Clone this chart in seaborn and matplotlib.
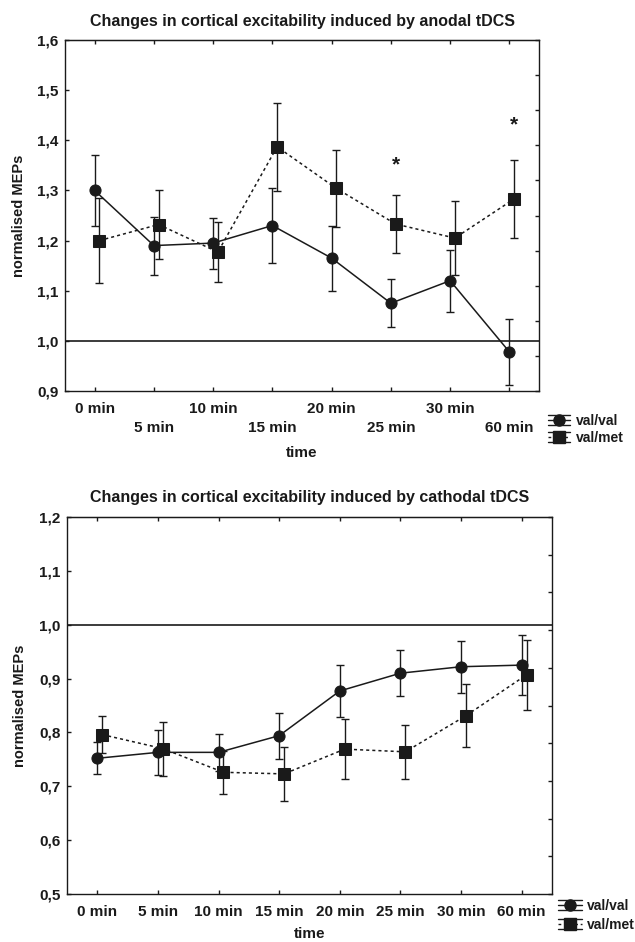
import numpy as np
import pandas as pd
import matplotlib
matplotlib.use("Agg")
import matplotlib.pyplot as plt
from matplotlib.lines import Line2D
from matplotlib.legend_handler import HandlerBase
import seaborn as sns

# ---------------- data ----------------
times = ["0 min", "5 min", "10 min", "15 min", "20 min", "25 min", "30 min", "60 min"]
groups = ["val/val", "val/met"]

anodal_valval = [1.300, 1.190, 1.195, 1.230, 1.165, 1.075, 1.120, 0.978]
anodal_valval_err = [0.071, 0.058, 0.051, 0.075, 0.065, 0.048, 0.062, 0.066]
anodal_valmet = [1.200, 1.232, 1.177, 1.387, 1.304, 1.233, 1.205, 1.283]
anodal_valmet_err = [0.085, 0.068, 0.060, 0.088, 0.077, 0.058, 0.073, 0.078]
anodal_sig = {"25 min": 1.35, "60 min": 1.43}

cathodal_valval = [0.752, 0.763, 0.763, 0.794, 0.877, 0.910, 0.922, 0.925]
cathodal_valval_err = [0.030, 0.042, 0.035, 0.043, 0.048, 0.043, 0.048, 0.055]
cathodal_valmet = [0.796, 0.770, 0.726, 0.723, 0.769, 0.764, 0.831, 0.907]
cathodal_valmet_err = [0.035, 0.050, 0.040, 0.050, 0.056, 0.050, 0.058, 0.065]

titles = ["Changes in cortical excitability induced by anodal tDCS",
          "Changes in cortical excitability induced by cathodal tDCS"]
ylims = [(0.9, 1.6), (0.5, 1.2)]
yticks_list = [[0.9, 1.0, 1.1, 1.2, 1.3, 1.4, 1.5, 1.6],
               [0.5, 0.6, 0.7, 0.8, 0.9, 1.0, 1.1, 1.2]]

# ---------------- style ----------------
sns.set_style("ticks")
plt.rcParams["font.family"] = ["Liberation Sans", "DejaVu Sans"]
plt.rcParams["font.weight"] = "bold"
plt.rcParams["axes.labelweight"] = "bold"
plt.rcParams["axes.titleweight"] = "bold"
INK = "#1a1a1a"

def make_df(vv, vve, vm, vme):
    rows = []
    for g, m, e in [("val/val", vv, vve), ("val/met", vm, vme)]:
        for i, t in enumerate(times):
            rows.append({"time": t, "idx": i, "group": g, "mean": m[i], "err": e[i]})
    return pd.DataFrame(rows)

dfs = [make_df(anodal_valval, anodal_valval_err, anodal_valmet, anodal_valmet_err),
       make_df(cathodal_valval, cathodal_valval_err, cathodal_valmet, cathodal_valmet_err)]

dodge = {"val/val": 0.0, "val/met": 0.08}


class EBHandler(HandlerBase):
    def __init__(self, marker, ms, dashes):
        super().__init__()
        self.marker = marker
        self.ms = ms
        self.dashes = dashes

    def create_artists(self, legend, orig_handle, xdescent, ydescent, width, height, fontsize, trans):
        x0 = -xdescent
        x1 = x0 + width
        xm = (x0 + x1) / 2
        ym = -ydescent + height / 2
        h = height * 0.5
        arts = []
        arts.append(Line2D([x0, x1], [ym + h, ym + h], color=INK, lw=1))
        arts.append(Line2D([x0, x1], [ym - h, ym - h], color=INK, lw=1))
        arts.append(Line2D([xm, xm], [ym - h, ym + h], color=INK, lw=1))
        mid = Line2D([x0, x1], [ym, ym], color=INK, lw=1)
        if self.dashes:
            mid.set_dashes(self.dashes)
        arts.append(mid)
        arts.append(Line2D([xm], [ym], marker=self.marker, ms=self.ms, color=INK, ls="none"))
        for a in arts:
            a.set_transform(trans)
        return arts


fig = plt.figure(figsize=(6.35, 9.42), dpi=100)
W, H = 635.0, 942.0
ax_boxes = [(65, 40, 539, 391), (67, 517, 552, 894)]

for k, df in enumerate(dfs):
    l, t, r, b = ax_boxes[k]
    ax = fig.add_axes([l / W, 1 - b / H, (r - l) / W, (b - t) / H])
    df = df.copy()
    df["x"] = df["idx"] + df["group"].map(dodge)

    for g in groups:
        d = df[df["group"] == g]
        ax.errorbar(d["x"], d["mean"], yerr=d["err"], fmt="none", ecolor=INK,
                    elinewidth=1, capsize=3, capthick=1)
    sns.lineplot(data=df, x="x", y="mean", style="group", style_order=groups,
                 markers={"val/val": "o", "val/met": "s"},
                 dashes={"val/val": "", "val/met": (2, 2)},
                 color=INK, markersize=8, markeredgecolor=INK, linewidth=1.1,
                 legend=False, errorbar=None, ax=ax)

    ax.axhline(1.0, color=INK, lw=1.2, zorder=1)

    ax.set_xlim(-0.5, len(times) - 0.5)
    ax.set_ylim(*ylims[k])
    ax.set_yticks(yticks_list[k])
    ax.set_yticklabels([f"{v:.1f}".replace(".", ",") for v in yticks_list[k]], fontsize=11)
    ax.set_xticks(range(len(times)))
    ax.set_xticklabels(times, fontsize=11)
    ax.tick_params(axis="both", direction="in", length=3, width=1, color=INK, labelcolor=INK)
    ax.tick_params(axis="x", pad=8)
    ax.tick_params(axis="y", pad=4.5)
    if k == 0:
        for i, tk in enumerate(ax.xaxis.get_major_ticks()):
            if i % 2 == 1:
                tk.set_pad(21.5)

    for s in ax.spines.values():
        s.set_visible(True)
        s.set_color(INK)
        s.set_linewidth(1)

    # top ticks at categories, right ticks with own spacing
    sec = ax.secondary_xaxis("top")
    sec.set_xticks(range(len(times)))
    sec.set_xticklabels([])
    sec.tick_params(direction="in", length=3, width=1, color=INK)
    sec.spines["top"].set_color(INK)
    ax2 = ax.twinx()
    ax2.set_ylim(*ylims[k])
    ax2.set_yticks(np.linspace(ylims[k][0], ylims[k][1], 11))
    ax2.set_yticklabels([])
    ax2.tick_params(direction="in", length=3, width=1, color=INK)
    for s in ax2.spines.values():
        s.set_visible(False)
    ax2.grid(False)

    ax.set_title(titles[k], fontsize=11.5, fontweight="bold", color=INK, pad=10 if k == 0 else 11)
    ax.set_ylabel("normalised MEPs", fontsize=10.5, color=INK)
    ax.set_xlabel("time", fontsize=11, color=INK)
    ax.xaxis.label.set_va("center")
    ax.yaxis.label.set_va("center")
    if k == 0:
        ax.xaxis.set_label_coords(0.5, -62 / 351)
        ax.yaxis.set_label_coords(-46 / 474, 0.5)
    else:
        ax.xaxis.set_label_coords(0.5, -40 / 377)
        ax.yaxis.set_label_coords(-47 / 485, 0.5)

    if k == 0:
        for tname, yv in anodal_sig.items():
            i = times.index(tname)
            ax.text(i + dodge["val/met"], yv, "*", ha="center", va="center",
                    fontsize=15, fontweight="bold", color=INK)

    h1 = Line2D([], [], color=INK)
    h2 = Line2D([], [], color=INK)
    hmap = {h1: EBHandler("o", 8, None), h2: EBHandler("s", 8, (2, 2))}
    if k == 0:
        fig.legend([h1, h2], groups, handler_map=hmap, loc="center left",
                   bbox_to_anchor=(548 / W, 1 - 429.5 / H), frameon=False,
                   fontsize=10, handlelength=1.6, handletextpad=0.4,
                   labelspacing=0.2, borderpad=0, borderaxespad=0, labelcolor=INK)
    else:
        fig.legend([h1, h2], groups, handler_map=hmap, loc="center left",
                   bbox_to_anchor=(558 / W, 1 - 915.5 / H), frameon=False,
                   fontsize=10, handlelength=1.7, handletextpad=0.4,
                   labelspacing=0.35, borderpad=0, borderaxespad=0, labelcolor=INK)

fig.savefig("out.png", dpi=100)
